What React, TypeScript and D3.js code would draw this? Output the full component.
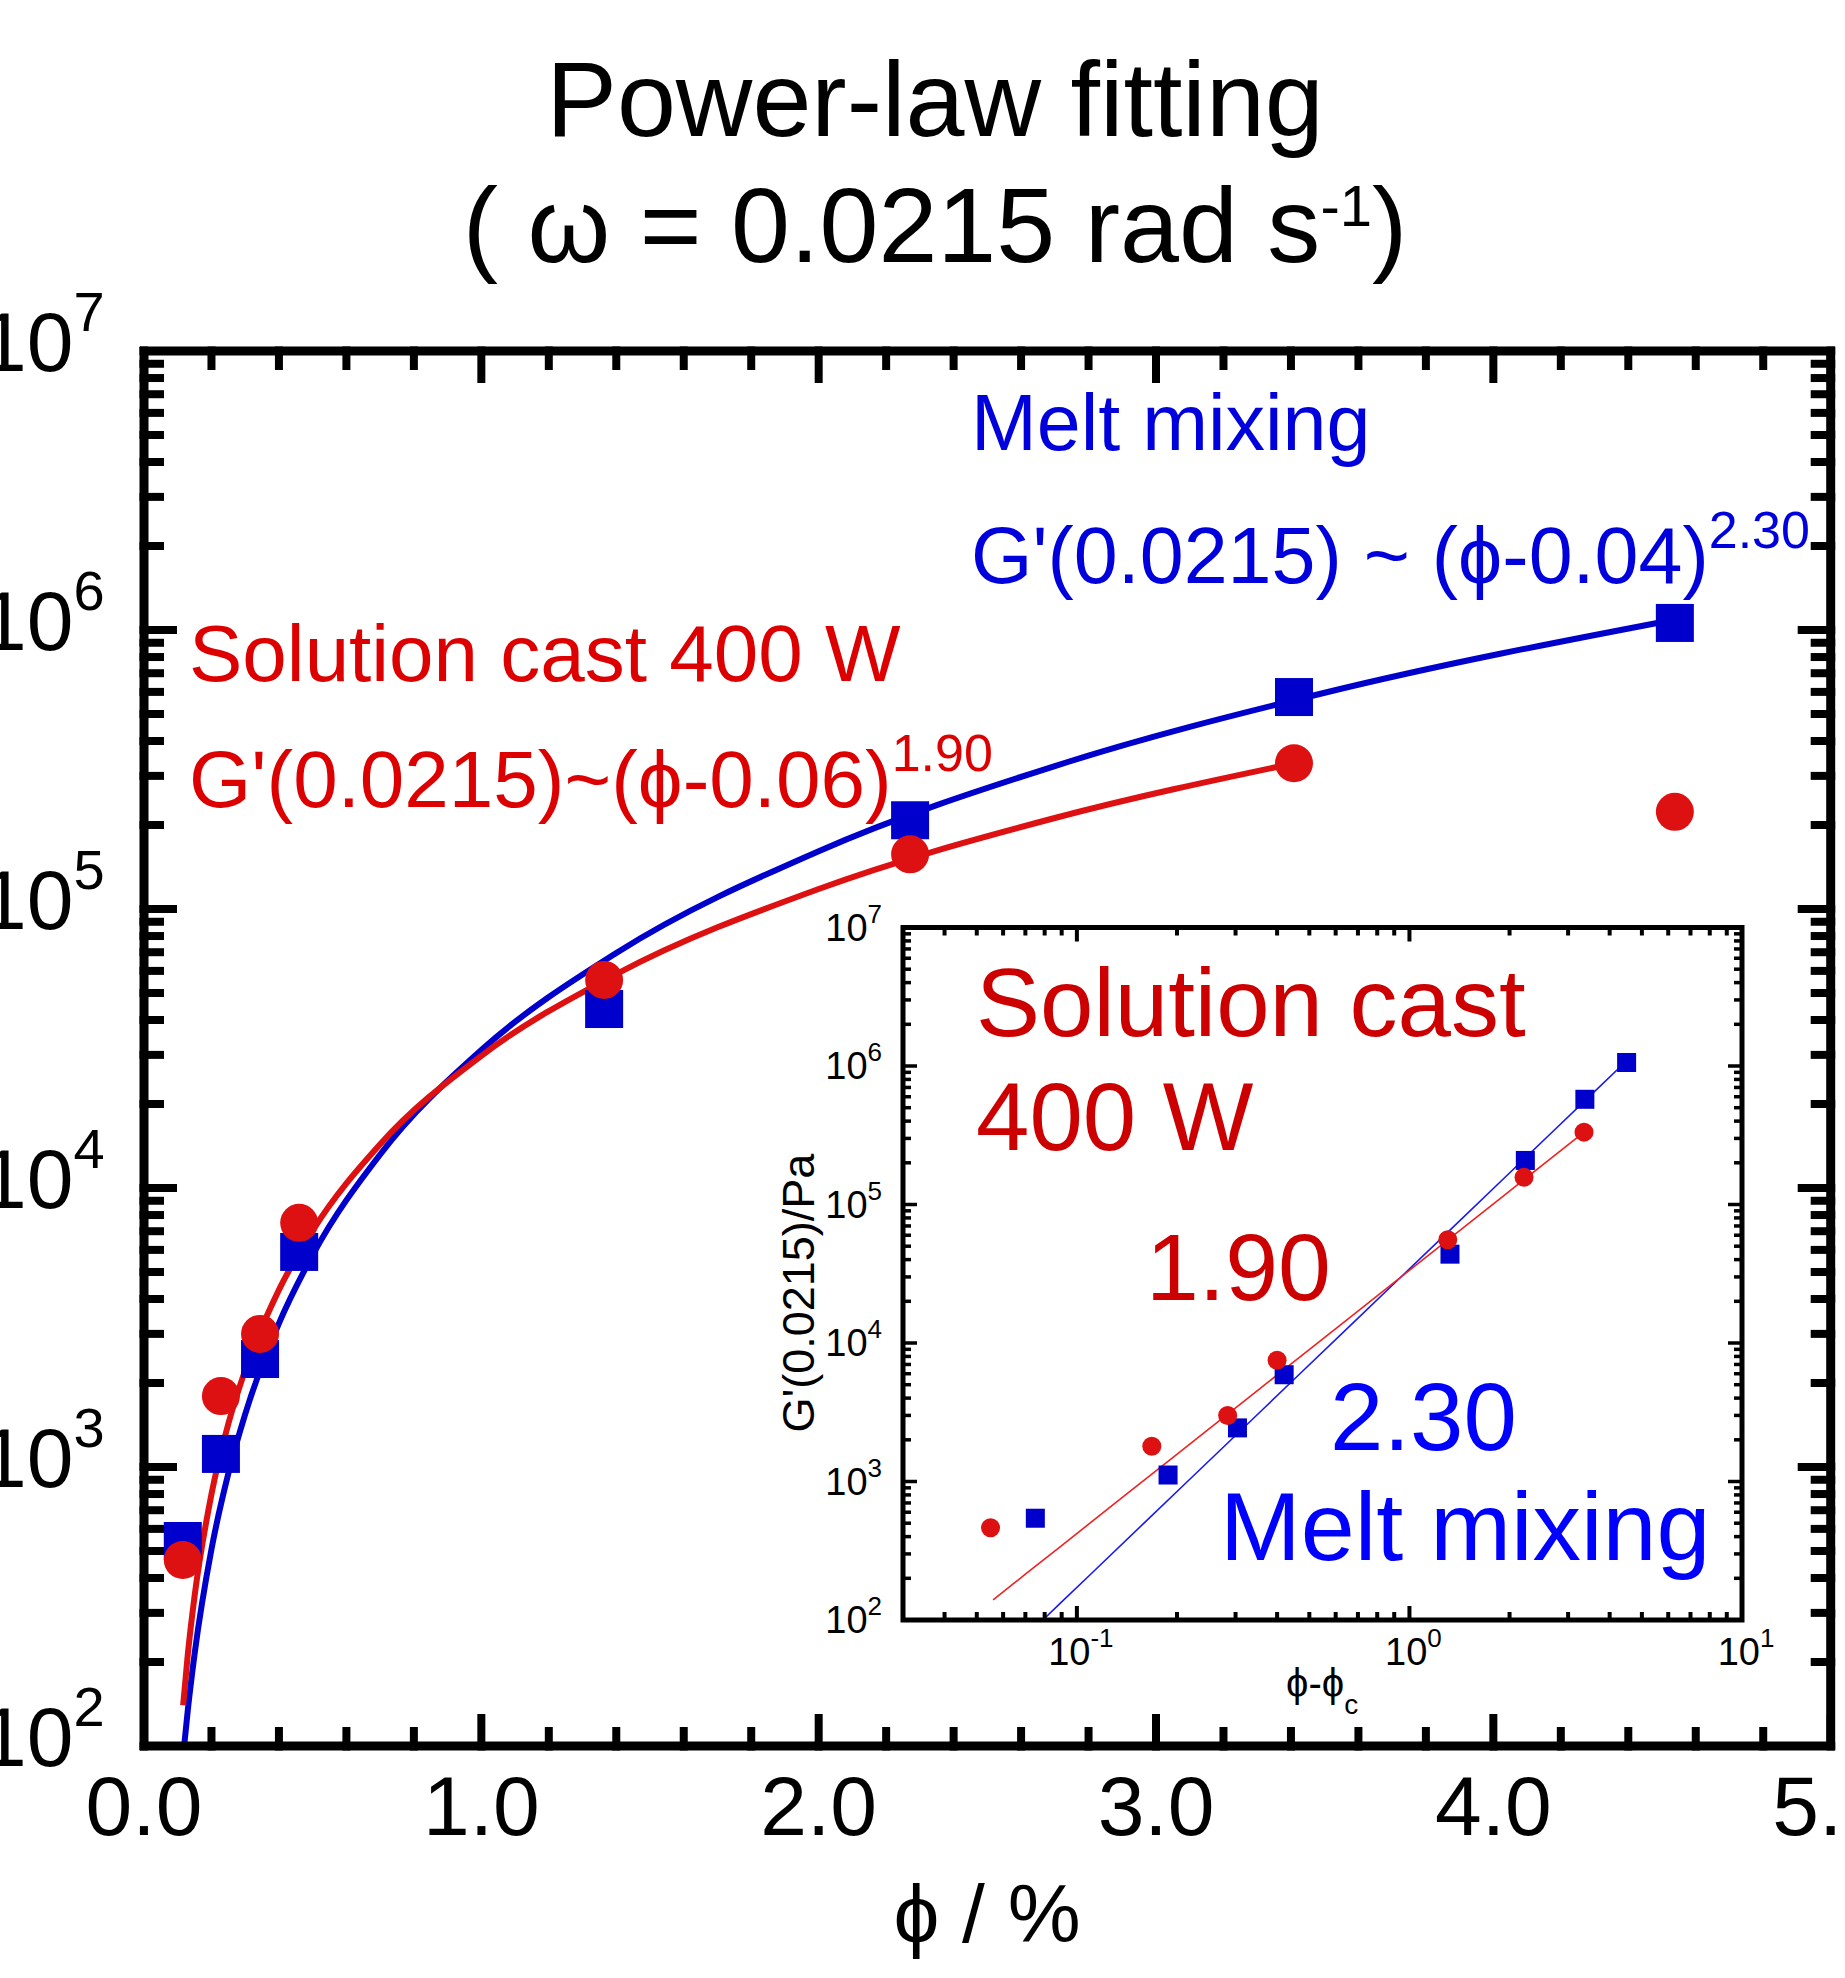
import React from "react";
import * as d3 from "d3";

// ---- data ----
const phi = [0.115, 0.228, 0.344, 0.46, 1.364, 2.271, 3.409, 4.538];
const gMelt = [543, 1114, 2438, 5900, 43800, 208000, 575000, 1060000];
const gSolution = [464, 1795, 3000, 7500, 55700, 157000, 333000, 223000];
const phiCMelt = 0.04;
const phiCSolution = 0.06;
const insetSolutionCount = 7; // last solution-cast point not shown in inset

// fitted curves
const fitSolutionPhi = [0.116, 0.13, 0.15, 0.2, 0.25, 0.3, 0.4, 0.5, 0.7, 1.0, 1.4, 2.0, 2.7, 3.41];
const fitSolutionG = [140, 214, 345, 799, 1428, 2224, 4314, 7039, 14350, 29780, 58420, 118000, 211900, 333000];
const fitMeltPhi = [0.119, 0.13, 0.15, 0.2, 0.25, 0.3, 0.4, 0.5, 0.7, 1.0, 1.4, 2.0, 2.7, 3.5, 4.54];
const fitMeltG = [100, 135, 214, 507, 947, 1548, 3271, 5752, 13190, 31230, 69570, 161200, 325400, 595800, 1091000];

const xTickLabels = ["0.0", "1.0", "2.0", "3.0", "4.0", "5.0"];
const yDecades = [2, 3, 4, 5, 6, 7];
const insetXDecades = [-1, 0, 1];

const FONT = "'Liberation Sans', Arial, sans-serif";
const RED = "#dd1111";
const BLUE = "#0000cc";

export default function App() {
  const W = 1845, H = 1978;
  const x = d3.scaleLinear().domain([0, 5]).range([144, 1830.7]);
  const y = d3.scaleLog().domain([1e2, 1e7]).range([1746, 351]);
  const xi = d3.scaleLog().domain([0.03, 10]).range([903, 1742]);
  const yi = d3.scaleLog().domain([1e2, 1e7]).range([1620, 927.5]);

  const [x0, x1] = x.range();
  const [y0, y1] = y.range(); // y0 bottom, y1 top
  const [ix0, ix1] = xi.range();
  const [iy0, iy1] = yi.range();

  const xMinor = d3.range(0, 5.0001, 0.2).map((v) => +v.toFixed(1));
  const yLogTicks: { v: number; major: boolean }[] = [];
  for (let e = 2; e < 7; e++) {
    for (let m = 1; m < 10; m++) yLogTicks.push({ v: m * Math.pow(10, e), major: m === 1 });
  }
  yLogTicks.push({ v: 1e7, major: true });

  const ixTicks: { v: number; major: boolean }[] = [];
  for (let e = -2; e <= 1; e++) {
    for (let m = 1; m < 10; m++) {
      const v = m * Math.pow(10, e);
      if (v >= 0.03 - 1e-9 && v <= 10 + 1e-9) ixTicks.push({ v, major: m === 1 });
    }
  }

  const lineMain = d3
    .line<[number, number]>()
    .x((d) => x(d[0]))
    .y((d) => y(d[1]))
    .curve(d3.curveMonotoneX);
  const lineInset = d3
    .line<[number, number]>()
    .x((d) => xi(d[0]))
    .y((d) => yi(d[1]));

  const fitSol: [number, number][] = fitSolutionPhi.map((p, i) => [p, fitSolutionG[i]]);
  const fitMelt: [number, number][] = fitMeltPhi.map((p, i) => [p, fitMeltG[i]]);
  const fitSolInset: [number, number][] = fitSolutionPhi.map((p, i) => [p - phiCSolution, fitSolutionG[i]]);
  const fitMeltInset: [number, number][] = fitMeltPhi.map((p, i) => [p - phiCMelt, fitMeltG[i]]);

  const SQ = 38, R = 19;
  const ISQ = 19, IR = 9.5;

  return (
    <div style={{ position: "absolute", left: 0, top: 0, width: W, height: H, background: "#fff" }}>
      <svg width={W} height={H} style={{ display: "block" }} fontFamily={FONT}>
        <defs>
          <clipPath id="mainClip">
            <rect x={x0} y={y1} width={x1 - x0} height={y0 - y1} />
          </clipPath>
          <clipPath id="insetClip">
            <rect x={ix0} y={iy1} width={ix1 - ix0} height={iy0 - iy1} />
          </clipPath>
        </defs>

        {/* Title */}
        <text x={935} y={136} fontSize={106} textAnchor="middle" fill="#000">
          Power-law fitting
        </text>
        <text x={935} y={262} fontSize={106} textAnchor="middle" fill="#000">
          ( ω = 0.0215 rad s
          <tspan dy={-36} fontSize={58}>-1</tspan>
          <tspan dy={36}>)</tspan>
        </text>

        {/* Main fits */}
        <g clipPath="url(#mainClip)">
          <path d={lineMain(fitMelt) || ""} fill="none" stroke={BLUE} strokeWidth={6} />
          <path d={lineMain(fitSol) || ""} fill="none" stroke={RED} strokeWidth={6} />
        </g>

        {/* Main markers */}
        {phi.map((p, i) => (
          <rect key={"ms" + i} x={x(p) - SQ / 2} y={y(gMelt[i]) - SQ / 2} width={SQ} height={SQ} fill={BLUE} />
        ))}
        {phi.map((p, i) => (
          <circle key={"sc" + i} cx={x(p)} cy={y(gSolution[i])} r={R} fill={RED} />
        ))}

        {/* Main frame */}
        <rect x={x0} y={y1} width={x1 - x0} height={y0 - y1} fill="none" stroke="#000" strokeWidth={9} />

        {xMinor.map((v, i) => {
          const major = Math.abs(v - Math.round(v)) < 1e-6;
          const L = major ? 32 : 19;
          return (
            <g key={"xt" + i}>
              <line x1={x(v)} x2={x(v)} y1={y0 + 4.5} y2={y0 - L} stroke="#000" strokeWidth={8} />
              <line x1={x(v)} x2={x(v)} y1={y1 - 4.5} y2={y1 + L} stroke="#000" strokeWidth={8} />
            </g>
          );
        })}
        {yLogTicks.map((t, i) => {
          const L = t.major ? 33 : 20;
          return (
            <g key={"yt" + i}>
              <line x1={x0 - 4.5} x2={x0 + L} y1={y(t.v)} y2={y(t.v)} stroke="#000" strokeWidth={8} />
              <line x1={x1 + 4.5} x2={x1 - L} y1={y(t.v)} y2={y(t.v)} stroke="#000" strokeWidth={8} />
            </g>
          );
        })}

        {xTickLabels.map((s, i) => (
          <text key={"xl" + i} x={x(i)} y={1835} fontSize={84} textAnchor="middle">
            {s}
          </text>
        ))}
        {yDecades.map((e) => (
          <text key={"yl" + e} x={-20} y={y(Math.pow(10, e)) + 20} fontSize={84}>
            10
            <tspan dy={-40} fontSize={56}>
              {e}
            </tspan>
          </text>
        ))}

        <text x={987} y={1942} fontSize={82} textAnchor="middle">
          ϕ / %
        </text>

        {/* Main annotations */}
        <text x={971} y={450} fontSize={79} fill="#0000dd">
          Melt mixing
        </text>
        <text x={971} y={583} fontSize={79} fill="#0000dd">
          G'(0.0215) ~ (ϕ-0.04)
          <tspan dy={-35} fontSize={52}>2.30</tspan>
        </text>
        <text x={189} y={681} fontSize={80} fill="#dd0000">
          Solution cast 400 W
        </text>
        <text x={189} y={807} fontSize={80} fill="#dd0000">
          G'(0.0215)~(ϕ-0.06)
          <tspan dy={-36} fontSize={52}>1.90</tspan>
        </text>

        {/* ---- Inset ---- */}
        <rect x={ix0} y={iy1} width={ix1 - ix0} height={iy0 - iy1} fill="#fff" />
        <g clipPath="url(#insetClip)">
          <path d={lineInset(fitMeltInset) || ""} fill="none" stroke="#1a1aee" strokeWidth={1.6} />
          <path d={lineInset(fitSolInset) || ""} fill="none" stroke="#ee2222" strokeWidth={1.6} />
        </g>
        {phi.map((p, i) => (
          <rect
            key={"ims" + i}
            x={xi(p - phiCMelt) - ISQ / 2}
            y={yi(gMelt[i]) - ISQ / 2}
            width={ISQ}
            height={ISQ}
            fill={BLUE}
          />
        ))}
        {phi.slice(0, insetSolutionCount).map((p, i) => (
          <circle key={"isc" + i} cx={xi(p - phiCSolution)} cy={yi(gSolution[i])} r={IR} fill={RED} />
        ))}
        <rect x={ix0} y={iy1} width={ix1 - ix0} height={iy0 - iy1} fill="none" stroke="#000" strokeWidth={5} />
        {ixTicks.map((t, i) => {
          const L = t.major ? 14 : 8;
          return (
            <g key={"ixt" + i}>
              <line x1={xi(t.v)} x2={xi(t.v)} y1={iy0} y2={iy0 - L} stroke="#000" strokeWidth={4} />
              <line x1={xi(t.v)} x2={xi(t.v)} y1={iy1} y2={iy1 + L} stroke="#000" strokeWidth={4} />
            </g>
          );
        })}
        {yLogTicks.map((t, i) => {
          const L = t.major ? 14 : 8;
          return (
            <g key={"iyt" + i}>
              <line x1={ix0} x2={ix0 + L} y1={yi(t.v)} y2={yi(t.v)} stroke="#000" strokeWidth={3.5} />
              <line x1={ix1} x2={ix1 - L} y1={yi(t.v)} y2={yi(t.v)} stroke="#000" strokeWidth={3.5} />
            </g>
          );
        })}
        {yDecades.map((e) => (
          <text key={"iyl" + e} x={882} y={yi(Math.pow(10, e)) + 13} fontSize={38} textAnchor="end">
            10
            <tspan dy={-18} fontSize={26}>
              {e}
            </tspan>
          </text>
        ))}
        {insetXDecades.map((e) => (
          <text key={"ixl" + e} x={xi(Math.pow(10, e)) + 4} y={1665} fontSize={38} textAnchor="middle">
            10
            <tspan dy={-18} fontSize={26}>
              {e}
            </tspan>
          </text>
        ))}
        <text x={1286} y={1697} fontSize={40}>
          ϕ-ϕ
          <tspan dy={17} fontSize={28}>c</tspan>
        </text>
        <text transform="translate(814,1293) rotate(-90)" fontSize={45} textAnchor="middle">
          G'(0.0215)/Pa
        </text>

        {/* Inset annotations */}
        <text x={976} y={1036} fontSize={96} fill="#cc0000">
          Solution cast
        </text>
        <text x={976} y={1150} fontSize={96} fill="#cc0000">
          400 W
        </text>
        <text x={1146} y={1300} fontSize={95} fill="#cc0000">
          1.90
        </text>
        <text x={1330} y={1450} fontSize={96} fill="#0000ff">
          2.30
        </text>
        <text x={1220} y={1560} fontSize={97} fill="#0000ff">
          Melt mixing
        </text>
      </svg>
    </div>
  );
}
